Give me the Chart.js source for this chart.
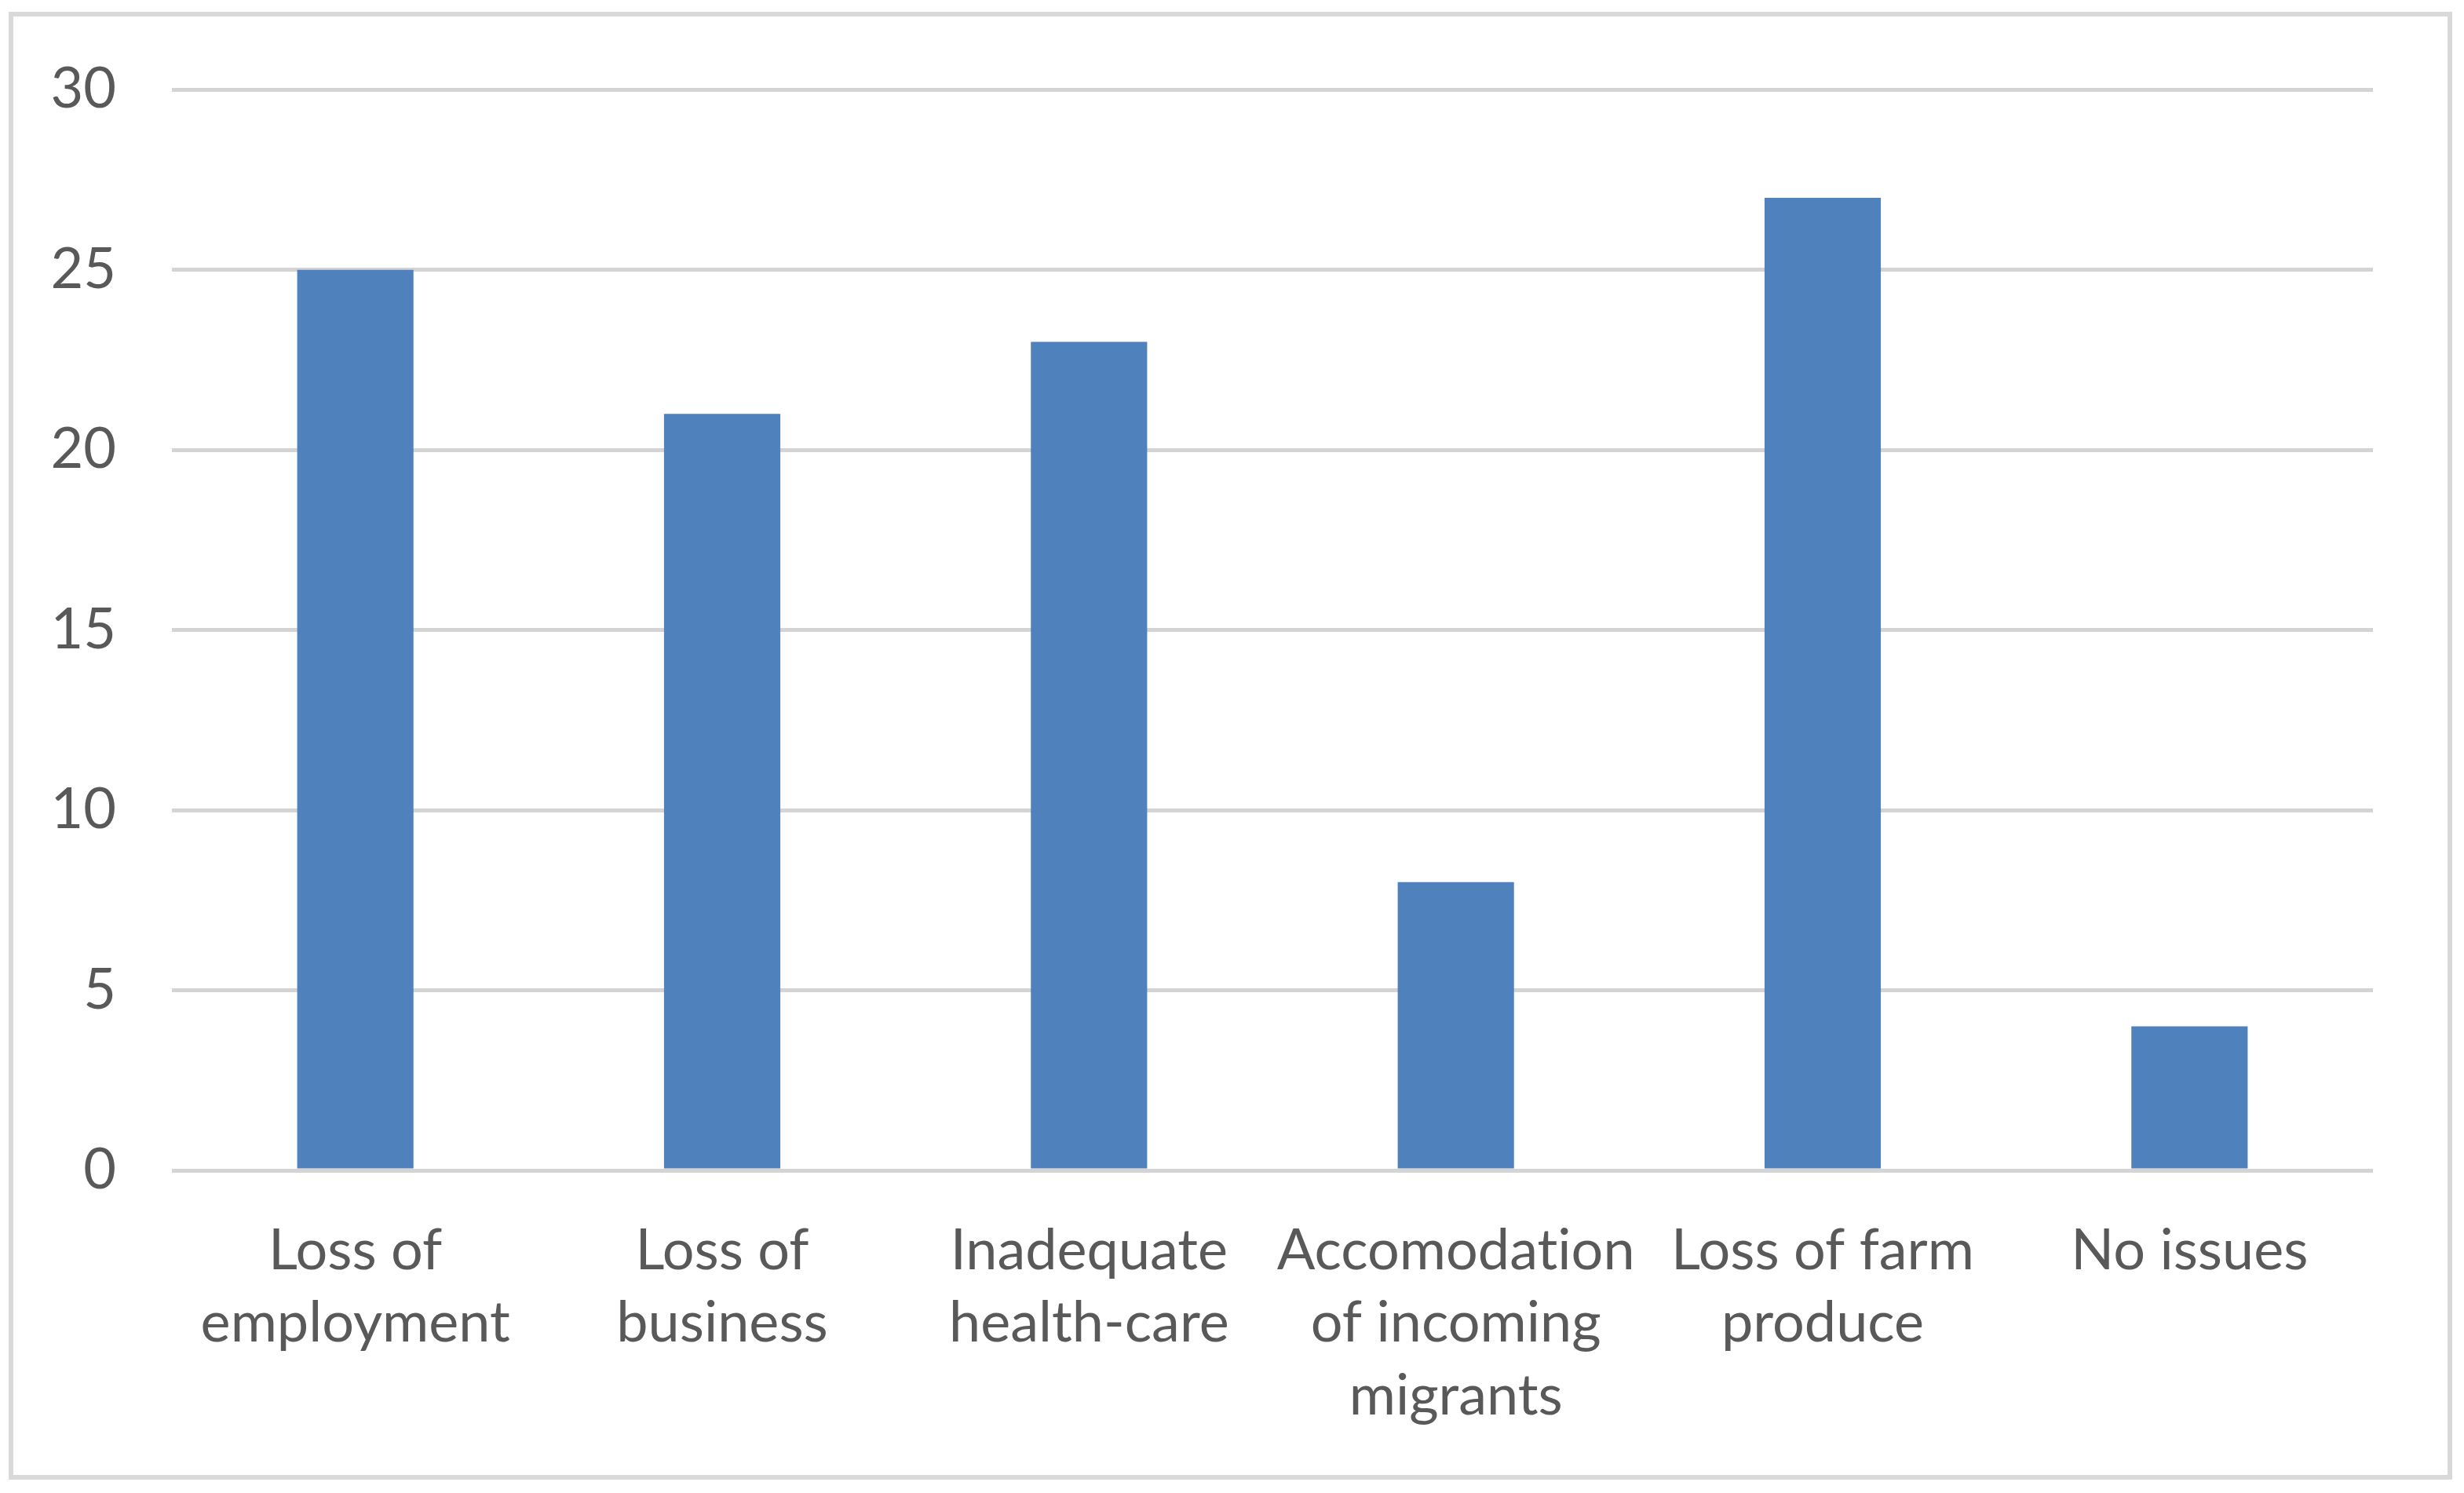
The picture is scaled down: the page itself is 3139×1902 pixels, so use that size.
<!DOCTYPE html>
<html>
<head>
<meta charset="utf-8">
<script src="https://cdn.jsdelivr.net/npm/chart.js@4"></script>
<style>
  html, body { margin: 0; padding: 0; background: #fff; }
  #frame {
    position: absolute; left: 11px; top: 15px;
    width: 3113px; height: 1870px;
    box-sizing: border-box; border: 6px solid #d9d9d9;
  }
  #grafico { position: absolute; left: 0; top: 0; }
</style>
</head>
<body>
<div id="frame"></div>
<canvas id="grafico" width="3139" height="1902"></canvas>
<script>
// categorias (eixo x) e valores
// \u200C evita a ligadura "ti" da fonte
const categorias = [
  ['Loss of', 'employment'],
  ['Loss of', 'business'],
  ['Inadequate', 'health-care'],
  ['Accomodat\u200Cion', 'of incoming', 'migrants'],
  ['Loss of farm', 'produce'],
  ['No issues']
]
const valores = [25, 21, 23, 8, 27, 4]
const ticksY = [0, 5, 10, 15, 20, 25, 30]

const corTexto = '#595959'
const fonte = { family: 'Lato, "Open Sans", sans-serif', size: 72 }

new Chart(document.getElementById('grafico'), {
  type: 'bar',
  data: {
    labels: categorias,
    datasets: [{
      data: valores,
      backgroundColor: '#4f81bd',
      borderWidth: 0,
      barPercentage: 0.317,
      categoryPercentage: 1
    }]
  },
  options: {
    responsive: false,
    animation: false,
    layout: { padding: { top: 112, right: 116, bottom: 0, left: 0 } },
    plugins: { legend: { display: false }, tooltip: { enabled: false } },
    scales: {
      x: {
        grid: { display: false },
        border: { display: false },
        ticks: {
          color: corTexto,
          font: { ...fonte, lineHeight: 1.28 },
          padding: 49,
          autoSkip: false,
          maxRotation: 0
        },
        afterFit: (s) => { s.height = 1902 - 1491 }
      },
      y: {
        min: 0,
        max: 30,
        afterBuildTicks: (s) => { s.ticks = ticksY.map(v => ({ value: v })) },
        grid: { color: '#d4d4d4', lineWidth: 5, drawTicks: false },
        border: { display: false },
        ticks: { color: corTexto, font: fonte, padding: 71 },
        afterFit: (s) => { s.width = 219 }
      }
    }
  }
})
</script>
</body>
</html>
